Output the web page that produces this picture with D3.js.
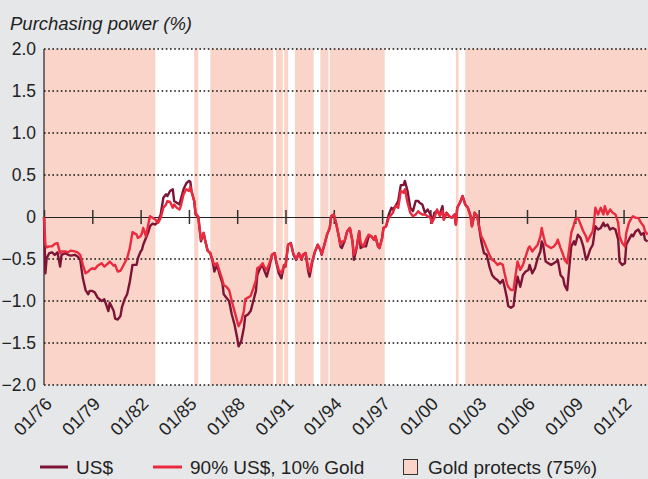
<!DOCTYPE html>
<html>
<head>
<meta charset="utf-8">
<script src="https://cdn.jsdelivr.net/npm/d3@7"></script>
<style>
  body { margin: 0; background: #e6e7e9; }
  svg text { font-family: "Liberation Sans", Arial, sans-serif; fill: #222; }
</style>
</head>
<body>
<div id="chart"></div>
<script>
var width = 648, height = 479;
var darkRed = '#7d1436',
    brightRed = '#ea2a3f',
    shade = '#fad4c8';

// monthly readings (YYYY-MM)
var months = [
  "1976-01","1976-02","1976-03","1976-05","1976-07","1976-09","1976-11","1977-01","1977-02","1977-05",
  "1977-07","1977-09","1977-12","1978-02","1978-04","1978-06","1978-08","1978-10","1978-11","1979-01",
  "1979-03","1979-05","1979-08","1979-10","1980-01","1980-02","1980-05","1980-06","1980-08","1980-10",
  "1980-11","1981-01","1981-03","1981-05","1981-07","1981-10","1981-11","1982-01","1982-02","1982-03",
  "1982-05","1982-07","1982-08","1982-10","1982-12","1983-02","1983-04","1983-06","1983-08","1983-09",
  "1983-11","1984-01","1984-02","1984-04","1984-06","1984-07","1984-09","1984-11","1985-01","1985-02",
  "1985-03","1985-05","1985-06","1985-08","1985-10","1985-12","1986-01","1986-03","1986-05","1986-07",
  "1986-08","1986-10","1986-12","1987-02","1987-03","1987-05","1987-07","1987-09","1987-11","1988-01",
  "1988-02","1988-04","1988-06","1988-07","1988-09","1988-11","1989-01","1989-03","1989-04","1989-06",
  "1989-08","1989-09","1989-11","1990-01","1990-03","1990-05","1990-06","1990-08","1990-10","1990-12",
  "1991-01","1991-03","1991-05","1991-07","1991-09","1991-11","1992-01","1992-02","1992-04","1992-06",
  "1992-07","1992-09","1992-11","1993-01","1993-03","1993-04","1993-06","1993-08","1993-10","1993-11",
  "1994-01","1994-03","1994-05","1994-06","1994-07","1994-09","1994-11","1995-01","1995-03","1995-04",
  "1995-06","1995-08","1995-09","1995-11","1996-01","1996-03","1996-05","1996-07","1996-08","1996-10",
  "1996-11","1997-01","1997-02","1997-04","1997-06","1997-08","1997-09","1997-11","1998-01","1998-03",
  "1998-05","1998-06","1998-08","1998-10","1998-12","1999-02","1999-04","1999-05","1999-07","1999-09",
  "1999-11","2000-01","2000-02","2000-04","2000-06","2000-08","2000-10","2000-11","2001-01","2001-03",
  "2001-05","2001-07","2001-08","2001-09","2001-11","2002-01","2002-03","2002-05","2002-07","2002-08",
  "2002-10","2002-12","2003-01","2003-03","2003-05","2003-07","2003-09","2003-11","2004-01","2004-03",
  "2004-05","2004-07","2004-08","2004-10","2004-11","2005-01","2005-03","2005-04","2005-06","2005-08",
  "2005-10","2005-12","2006-02","2006-03","2006-05","2006-07","2006-09","2006-11","2006-12","2007-01",
  "2007-03","2007-05","2007-07","2007-09","2007-11","2007-12","2008-02","2008-04","2008-05","2008-07",
  "2008-08","2008-10","2008-12","2009-01","2009-03","2009-05","2009-07","2009-09","2009-10","2009-12",
  "2010-02","2010-03","2010-04","2010-06","2010-08","2010-10","2010-11","2011-01","2011-03","2011-05",
  "2011-07","2011-09","2011-10","2011-12","2012-02","2012-03","2012-05","2012-07","2012-08","2012-10",
  "2012-12","2013-02","2013-04","2013-05","2013-07"
];
var usd = [
  0,-0.67,-0.49,-0.43,-0.42,-0.45,-0.42,-0.59,-0.45,-0.43,
  -0.45,-0.46,-0.45,-0.47,-0.51,-0.73,-0.87,-0.92,-0.88,-0.88,
  -0.90,-0.96,-1.00,-0.98,-1.12,-1.02,-1.12,-1.21,-1.22,-1.18,
  -1.08,-0.98,-0.92,-0.77,-0.57,-0.57,-0.49,-0.41,-0.39,-0.33,
  -0.25,-0.17,-0.11,-0.08,-0.09,-0.05,0.03,0.23,0.27,0.25,
  0.31,0.33,0.19,0.17,0.15,0.21,0.33,0.40,0.43,0.42,
  0.31,0.19,0.03,0.00,-0.29,-0.19,-0.27,-0.40,-0.43,-0.55,
  -0.65,-0.57,-0.69,-0.79,-0.92,-0.96,-1.00,-1.16,-1.28,-1.44,
  -1.54,-1.48,-1.32,-1.18,-1.16,-1.12,-1.00,-0.88,-0.69,-0.61,
  -0.57,-0.63,-0.71,-0.59,-0.45,-0.43,-0.53,-0.67,-0.73,-0.57,
  -0.59,-0.33,-0.31,-0.45,-0.51,-0.43,-0.51,-0.45,-0.43,-0.65,
  -0.71,-0.53,-0.41,-0.33,-0.39,-0.45,-0.33,-0.21,-0.13,0.01,
  0.03,-0.09,-0.25,-0.35,-0.37,-0.29,-0.17,-0.13,-0.29,-0.51,
  -0.37,-0.17,-0.37,-0.35,-0.35,-0.23,-0.23,-0.27,-0.23,-0.35,
  -0.37,-0.25,-0.13,-0.11,0.03,0.11,0.09,0.13,0.19,0.38,
  0.38,0.43,0.31,0.11,0.07,0.19,0.19,0.17,0.15,0.05,
  0.09,0.03,-0.07,0.05,0.07,0.03,0.13,-0.03,0.05,0.01,
  -0.01,0.03,-0.09,0.11,0.17,0.25,0.15,0.11,0.01,-0.11,
  0.05,0.01,-0.09,-0.29,-0.43,-0.45,-0.59,-0.69,-0.73,-0.75,
  -0.79,-0.75,-0.81,-0.96,-1.06,-1.08,-1.06,-0.92,-0.71,-0.83,
  -0.69,-0.65,-0.63,-0.57,-0.67,-0.61,-0.49,-0.41,-0.29,-0.33,
  -0.53,-0.55,-0.57,-0.55,-0.53,-0.51,-0.69,-0.73,-0.81,-0.87,
  -0.69,-0.35,-0.29,-0.33,-0.21,-0.25,-0.35,-0.51,-0.49,-0.39,
  -0.33,-0.23,-0.11,-0.15,-0.13,-0.07,-0.11,-0.09,-0.15,-0.13,
  -0.15,-0.27,-0.53,-0.57,-0.55,-0.33,-0.27,-0.21,-0.23,-0.17,
  -0.15,-0.21,-0.19,-0.27,-0.29
];
var usdGold = [
  0,-0.33,-0.36,-0.35,-0.35,-0.32,-0.31,-0.43,-0.41,-0.41,
  -0.42,-0.40,-0.41,-0.42,-0.45,-0.57,-0.67,-0.65,-0.63,-0.61,
  -0.62,-0.58,-0.55,-0.59,-0.55,-0.53,-0.58,-0.57,-0.65,-0.64,
  -0.61,-0.55,-0.49,-0.37,-0.18,-0.21,-0.25,-0.23,-0.19,-0.13,
  -0.23,-0.07,0.01,-0.01,-0.03,-0.07,-0.01,0.11,0.15,0.19,
  0.18,0.11,0.15,0.11,0.09,0.13,0.27,0.33,0.31,0.36,
  0.30,0.19,0.05,0.00,-0.27,-0.19,-0.27,-0.40,-0.43,-0.53,
  -0.57,-0.55,-0.65,-0.75,-0.81,-0.83,-0.87,-1.00,-1.12,-1.24,
  -1.30,-1.24,-1.12,-0.98,-0.96,-0.94,-0.85,-0.75,-0.61,-0.59,
  -0.55,-0.59,-0.63,-0.55,-0.45,-0.43,-0.52,-0.63,-0.67,-0.57,
  -0.58,-0.33,-0.31,-0.44,-0.50,-0.43,-0.50,-0.45,-0.43,-0.61,
  -0.65,-0.52,-0.41,-0.33,-0.39,-0.44,-0.33,-0.21,-0.13,0.01,
  0.03,-0.09,-0.25,-0.33,-0.29,-0.29,-0.17,-0.13,-0.29,-0.45,
  -0.37,-0.17,-0.31,-0.35,-0.27,-0.21,-0.23,-0.27,-0.23,-0.35,
  -0.37,-0.25,-0.13,-0.11,-0.01,0.03,0.05,0.13,0.11,0.31,
  0.29,0.33,0.17,0.05,0.01,0.03,0.07,0.05,0.03,0.03,
  0.01,-0.01,-0.07,-0.01,0.09,0.01,0.07,-0.03,0.05,0.01,
  -0.01,0.03,-0.09,0.11,0.17,0.25,0.15,0.11,0.01,-0.11,
  0.05,0.01,-0.09,-0.23,-0.29,-0.37,-0.45,-0.51,-0.53,-0.57,
  -0.55,-0.57,-0.65,-0.79,-0.83,-0.87,-0.87,-0.75,-0.53,-0.63,
  -0.57,-0.47,-0.37,-0.35,-0.41,-0.37,-0.33,-0.23,-0.13,-0.21,
  -0.33,-0.35,-0.37,-0.35,-0.31,-0.27,-0.37,-0.45,-0.51,-0.55,
  -0.43,-0.19,-0.09,-0.03,-0.01,-0.09,-0.17,-0.23,-0.29,-0.23,
  -0.17,-0.07,0.11,0.03,0.11,0.03,0.13,0.03,0.09,0.05,
  0.03,-0.07,-0.23,-0.31,-0.35,-0.19,-0.07,-0.01,0.01,-0.01,
  -0.01,-0.07,-0.11,-0.17,-0.21
];
// periods where gold protects (start month, end month)
var protectStart = ["1976-01","1985-05","1986-05","1990-06","1990-12","1991-08","1993-03","1993-10","2001-08","2002-03"];
var protectEnd   = ["1982-12","1985-08","1990-04","1990-11","1991-03","1992-10","1993-09","1997-03","2001-10","2013-08"];
var yTicks = [2.0, 1.5, 1.0, 0.5, 0, -0.5, -1.0, -1.5, -2.0];
var xTickYears = [1976, 1979, 1982, 1985, 1988, 1991, 1994, 1997, 2000, 2003, 2006, 2009, 2012];

var parse = d3.timeParse("%Y-%m");
var svg = d3.select('#chart').append("svg").attr("width", width).attr("height", height);

var x = d3.scaleTime().domain([new Date(1976, 0, 1), new Date(2013, 6, 8)]).range([44, 648]);
var y = d3.scaleLinear().domain([-2, 2]).range([385, 49]);

// plot background
svg.append("rect").attr("x", 44).attr("y", y(2)).attr("width", 648 - 44).attr("height", y(-2) - y(2)).attr("fill", "#fff");

// shaded periods
svg.append("g").selectAll("rect").data(protectStart).enter().append("rect")
  .attr("x", function(d) { return x(parse(d)); })
  .attr("y", y(2))
  .attr("width", function(d, i) { return Math.min(648, x(parse(protectEnd[i]))) - x(parse(d)); })
  .attr("height", y(-2) - y(2))
  .attr("fill", shade);

// dotted gridlines
svg.append("g").selectAll("line").data(yTicks.filter(function(d) { return d !== 0; })).enter().append("line")
  .attr("x1", 44).attr("x2", 648)
  .attr("y1", function(d) { return y(d); }).attr("y2", function(d) { return y(d); })
  .attr("stroke", "#111").attr("stroke-width", 1.6).attr("stroke-dasharray", "1.6,2.6");

// y labels
svg.append("g").selectAll("text").data(yTicks).enter().append("text")
  .attr("x", 36).attr("y", function(d) { return y(d) + 6; })
  .attr("text-anchor", "end").attr("font-size", 17.5)
  .text(function(d) { return d === 0 ? "0" : d3.format(".1f")(d); });

// y axis line
svg.append("line").attr("x1", 44).attr("x2", 44).attr("y1", y(2)).attr("y2", y(-2)).attr("stroke", "#222").attr("stroke-width", 1.2);

// zero line with ticks
var xAxis = d3.axisBottom(x)
  .tickValues(xTickYears.map(function(yr) { return new Date(yr, 0, 1); }))
  .tickSize(0).tickFormat("");
var zg = svg.append("g").attr("transform", "translate(0," + y(0) + ")").call(xAxis);
zg.select(".domain").attr("stroke", "#222").attr("stroke-width", 1.2);
zg.selectAll(".tick line").attr("y1", -7).attr("y2", 7).attr("stroke", "#333").attr("stroke-width", 1.5);

// x labels
svg.append("g").selectAll("text").data(xTickYears).enter().append("text")
  .attr("transform", function(d) { return "translate(" + (x(new Date(d, 0, 1)) + 9) + ",405) rotate(-45)"; })
  .attr("text-anchor", "end").attr("font-size", 18)
  .text(function(d) { return d3.timeFormat("01/%y")(new Date(d, 0, 1)); });

// lines
var line = function(vals) {
  return d3.line()
    .x(function(d, i) { return x(parse(months[i])); })
    .y(function(d) { return y(d); })(vals);
};
svg.append("path").attr("d", line(usd)).attr("fill", "none").attr("stroke", darkRed).attr("stroke-width", 2.4).attr("stroke-linejoin", "round");
svg.append("path").attr("d", line(usdGold)).attr("fill", "none").attr("stroke", brightRed).attr("stroke-width", 2.4).attr("stroke-linejoin", "round");

// title
svg.append("text").attr("x", 10).attr("y", 29.5).attr("font-size", 18.5).attr("font-style", "italic").text("Purchasing power (%)");

// legend
var lg = svg.append("g");
lg.append("line").attr("x1", 40).attr("x2", 68).attr("y1", 467).attr("y2", 467).attr("stroke", darkRed).attr("stroke-width", 3);
lg.append("text").attr("x", 76).attr("y", 474).attr("font-size", 19).text("US$");
lg.append("line").attr("x1", 153).attr("x2", 182).attr("y1", 467).attr("y2", 467).attr("stroke", brightRed).attr("stroke-width", 3);
lg.append("text").attr("x", 190).attr("y", 474).attr("font-size", 19).text("90% US$, 10% Gold");
lg.append("rect").attr("x", 403.5).attr("y", 459.5).attr("width", 14).attr("height", 15).attr("fill", shade).attr("stroke", "#333").attr("stroke-width", 1);
lg.append("text").attr("x", 428).attr("y", 474).attr("font-size", 19).text("Gold protects (75%)");
</script>
</body>
</html>
